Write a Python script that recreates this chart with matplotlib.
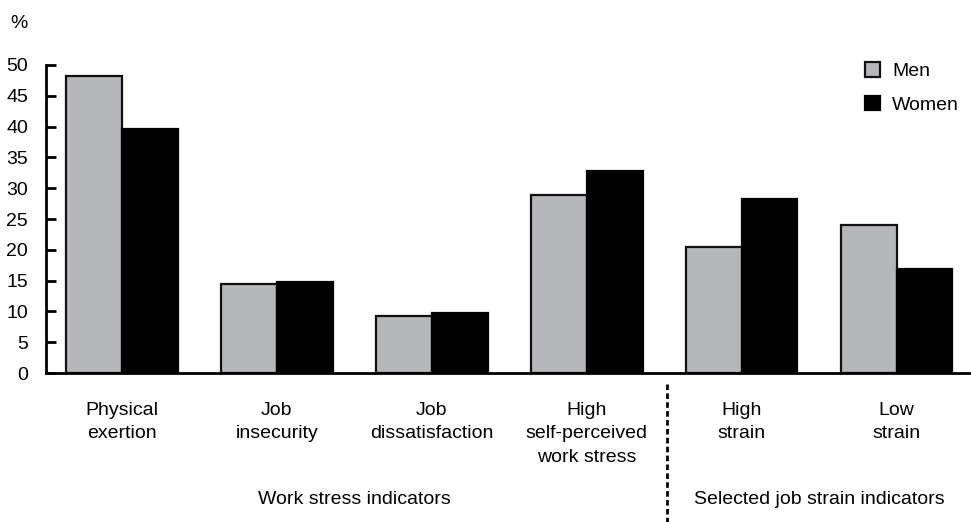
import numpy as np
import matplotlib
matplotlib.use("Agg")
import matplotlib.pyplot as plt

# Data
categories = ["Physical\nexertion", "Job\ninsecurity", "Job\ndissatisfaction",
              "High\nself-perceived\nwork stress", "High\nstrain", "Low\nstrain"]
men = [48.2, 14.5, 9.3, 28.9, 20.4, 24.0]
women = [39.6, 14.8, 9.8, 32.8, 28.2, 16.9]
groups = ["Work stress indicators", "Selected job strain indicators"]
yticks = [0, 5, 10, 15, 20, 25, 30, 35, 40, 45, 50]

plt.rcParams["font.family"] = ["Liberation Sans", "DejaVu Sans"]

fig = plt.figure(figsize=(9.71, 5.22), dpi=100)
ax = fig.add_axes([46 / 971, 149 / 522, 1 - 46 / 971, (373 - 65) / 522])

x = np.arange(len(categories))
w = 0.36
ax.bar(x - w / 2, men, w, color="#b5b7ba", edgecolor="#111111", linewidth=1.6, label="Men")
ax.bar(x + w / 2, women, w, color="black", edgecolor="black", linewidth=1.6, label="Women")

ax.set_xlim(-0.49, 5.48)
ax.set_ylim(0, 50)
ax.set_yticks(yticks)
ax.tick_params(axis="y", direction="in", length=7, width=2, labelsize=14, pad=13)
ax.set_xticks([])
for s in ["top", "right"]:
    ax.spines[s].set_visible(False)
ax.spines["left"].set_linewidth(2)
ax.spines["bottom"].set_linewidth(2)

fig.text(10 / 971, 1 - 23 / 522, "%", fontsize=14, ha="left", va="center")

# category labels under the axis
for xi, lab in zip(x, categories):
    ax.text(xi, -4.7, lab, ha="center", va="top", fontsize=14, linespacing=1.5)

# group labels
ax.text(1.5, -20.6, groups[0], ha="center", va="center", fontsize=14)
ax.text(4.5, -20.6, groups[1], ha="center", va="center", fontsize=14)

# dashed separator
ax.plot([3.52, 3.52], [-1.8, -24.3], color="black", linestyle=(0, (2, 1.2)),
        linewidth=2, clip_on=False)

leg = ax.legend(loc="upper right", bbox_to_anchor=(1.006, 1.065), frameon=False,
                fontsize=14, handlelength=0.75, handleheight=0.75, handletextpad=0.65,
                labelspacing=0.8)

fig.savefig("out.png", dpi=100)
